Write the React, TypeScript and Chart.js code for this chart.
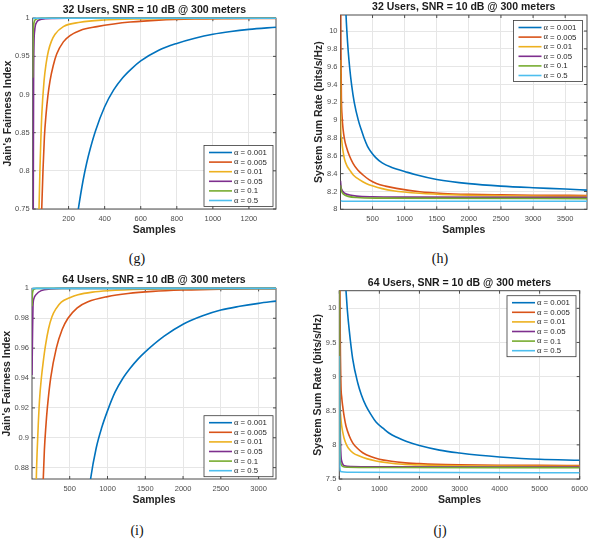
import React, { useEffect, useRef } from 'react';
import { Chart, registerables } from 'chart.js';

Chart.register(...registerables);

type Pt = [number, number];

// ---------- shared legend / colours ----------
const ALPHA_VALUES = ['0.001', '0.005', '0.01', '0.05', '0.1', '0.5'];
const SERIES_COLORS = ['#0072BD', '#D95319', '#EDB120', '#7E2F8E', '#77AC30', '#4DBEEE'];

// ---------- (g) 32 users, Jain's index ----------
const G_X_TICKS = [200, 400, 600, 800, 1000, 1200];
const G_Y_TICKS = [0.75, 0.8, 0.85, 0.9, 0.95, 1];
const G_A0001: Pt[] = [[150, 0.55], [200, 0.66], [254, 0.75], [280, 0.787], [300, 0.81], [320, 0.829], [350, 0.853], [400, 0.884], [450, 0.906], [500, 0.922], [550, 0.934], [600, 0.944], [700, 0.958], [800, 0.967], [900, 0.9738], [1000, 0.979], [1100, 0.9826], [1200, 0.9853], [1350, 0.9882]];
const G_A0005: Pt[] = [[1, 0.2], [30, 0.55], [51, 0.75], [58, 0.8], [66, 0.845], [75, 0.874], [85, 0.898], [97, 0.918], [115, 0.938], [134, 0.953], [171, 0.969], [210, 0.9775], [264, 0.984], [357, 0.989], [450, 0.9925], [542, 0.995], [700, 0.9975], [900, 0.999], [1100, 0.9995], [1350, 0.9998]];
const G_A001: Pt[] = [[1, 0.3], [25, 0.6], [36, 0.75], [41, 0.8], [46, 0.84], [51, 0.872], [64, 0.918], [75, 0.94], [88, 0.957], [105, 0.97], [125, 0.979], [171, 0.989], [264, 0.9946], [393, 0.9976], [600, 0.9991], [900, 0.9997], [1350, 1]];
const G_A005: Pt[] = [[1, 0.55], [4, 0.75], [6, 0.92], [8, 0.965], [12, 0.984], [23, 0.9946], [40, 0.998], [70, 0.9993], [120, 0.9998], [200, 1], [1350, 1]];
const G_A01: Pt[] = [[1, 0.922], [3, 0.975], [6, 0.99], [12, 0.997], [25, 0.9993], [50, 1], [1350, 1]];
const G_A05: Pt[] = [[1, 0.9995], [10, 1], [1350, 1]];

// ---------- (h) 32 users, sum rate ----------
const H_X_TICKS = [500, 1000, 1500, 2000, 2500, 3000, 3500];
const H_Y_TICKS = [8, 8.2, 8.4, 8.6, 8.8, 9, 9.2, 9.4, 9.6, 9.8, 10];
const H_A0001: Pt[] = [[30, 11.8], [60, 10.75], [87, 10.18], [100, 10.0], [120, 9.785], [145, 9.58], [175, 9.39], [215, 9.2], [278, 9.0], [330, 8.88], [368, 8.8], [420, 8.71], [480, 8.64], [550, 8.58], [650, 8.52], [800, 8.47], [1000, 8.425], [1160, 8.39], [1500, 8.335], [2000, 8.288], [2500, 8.26], [3000, 8.242], [3500, 8.228], [3840, 8.215]];
const H_A0005: Pt[] = [[1, 10.9], [8, 9.8], [15, 9.25], [25, 9.05], [41, 8.9], [65, 8.78], [93, 8.7], [140, 8.6], [196, 8.516], [270, 8.44], [352, 8.385], [450, 8.33], [560, 8.29], [700, 8.26], [872, 8.235], [1235, 8.197], [1600, 8.178], [2000, 8.168], [2500, 8.162], [3000, 8.158], [3840, 8.155]];
const H_A001: Pt[] = [[1, 9.675], [5, 8.9], [15, 8.8], [31, 8.7], [50, 8.61], [67, 8.553], [100, 8.49], [145, 8.44], [200, 8.385], [300, 8.33], [400, 8.29], [508, 8.261], [650, 8.232], [820, 8.209], [1235, 8.18], [1700, 8.163], [2500, 8.152], [3840, 8.145]];
const H_A005: Pt[] = [[1, 8.32], [10, 8.25], [25, 8.215], [41, 8.197], [80, 8.175], [145, 8.16], [250, 8.148], [500, 8.14], [1000, 8.137], [3840, 8.135]];
const H_A01: Pt[] = [[1, 8.27], [15, 8.21], [35, 8.18], [67, 8.16], [120, 8.145], [250, 8.132], [600, 8.125], [3840, 8.12]];
const H_A05: Pt[] = [[1, 8.095], [50, 8.09], [3840, 8.09]];

// ---------- (i) 64 users, Jain's index ----------
const I_X_TICKS = [500, 1000, 1500, 2000, 2500, 3000];
const I_Y_TICKS = [0.88, 0.9, 0.92, 0.94, 0.96, 0.98, 1];
const I_A0001: Pt[] = [[600, 0.8], [776, 0.8724], [850, 0.893], [925, 0.907], [1000, 0.918], [1100, 0.9305], [1200, 0.9395], [1300, 0.9465], [1400, 0.9525], [1500, 0.9575], [1750, 0.968], [2000, 0.976], [2250, 0.9815], [2500, 0.9855], [2750, 0.988], [3000, 0.99], [3230, 0.9915]];
const I_A0005: Pt[] = [[100, 0.78], [150, 0.8724], [165, 0.892], [185, 0.908], [204, 0.92], [248, 0.94], [323, 0.96], [400, 0.9725], [477, 0.98], [600, 0.987], [742, 0.991], [1000, 0.9945], [1272, 0.9966], [1600, 0.998], [2000, 0.9989], [2500, 0.9995], [3230, 0.9998]];
const I_A001: Pt[] = [[30, 0.78], [58, 0.8724], [70, 0.892], [85, 0.91], [100, 0.925], [125, 0.94], [150, 0.951], [180, 0.962], [220, 0.973], [265, 0.981], [320, 0.9865], [389, 0.9908], [500, 0.9938], [610, 0.9958], [800, 0.9975], [1007, 0.9984], [1500, 0.9994], [2000, 0.9998], [3230, 1]];
const I_A005: Pt[] = [[1, 0.942], [8, 0.97], [14, 0.988], [25, 0.993], [58, 0.996], [123, 0.9985], [250, 0.9996], [400, 1], [3230, 1]];
const I_A01: Pt[] = [[1, 0.988], [5, 0.995], [12, 0.998], [30, 0.9995], [60, 1], [3230, 1]];
const I_A05: Pt[] = [[1, 0.9995], [20, 1], [3230, 1]];

// ---------- (j) 64 users, sum rate ----------
const J_X_TICKS = [0, 1000, 2000, 3000, 4000, 5000, 6000];
const J_Y_TICKS = [7.5, 8, 8.5, 9, 9.5, 10];
const J_A0001: Pt[] = [[120, 10.8], [140, 10.55], [167, 10.26], [200, 9.98], [250, 9.67], [334, 9.26], [459, 8.91], [550, 8.735], [666, 8.57], [800, 8.435], [916, 8.335], [1100, 8.24], [1248, 8.17], [1450, 8.107], [1664, 8.052], [2000, 7.99], [2500, 7.923], [3000, 7.88], [3500, 7.847], [4000, 7.823], [5000, 7.789], [6000, 7.775]];
const J_A0005: Pt[] = [[0, 12], [10, 10.8], [25, 9.5], [42, 8.86], [60, 8.7], [84, 8.57], [120, 8.42], [167, 8.276], [250, 8.13], [334, 8.03], [450, 7.95], [584, 7.885], [800, 7.825], [1000, 7.79], [1300, 7.76], [1582, 7.74], [2000, 7.725], [2413, 7.715], [3000, 7.708], [4000, 7.702], [5000, 7.699], [6000, 7.697]];
const J_A001: Pt[] = [[0, 11], [8, 9.6], [17, 8.6], [30, 8.45], [45, 8.35], [67, 8.25], [95, 8.16], [125, 8.085], [180, 8.0], [250, 7.935], [350, 7.88], [500, 7.837], [700, 7.795], [916, 7.764], [1200, 7.738], [1582, 7.715], [2000, 7.705], [2500, 7.697], [4000, 7.69], [6000, 7.685]];
const J_A005: Pt[] = [[0, 10.5], [15, 8.6], [30, 8.05], [42, 7.84], [60, 7.76], [90, 7.715], [125, 7.695], [300, 7.683], [1000, 7.68], [6000, 7.675]];
const J_A01: Pt[] = [[0, 10.6], [8, 8.6], [17, 7.81], [30, 7.74], [42, 7.715], [80, 7.685], [200, 7.672], [1000, 7.668], [6000, 7.665]];
const J_A05: Pt[] = [[0, 9.3], [5, 8.3], [12, 7.7], [25, 7.62], [60, 7.605], [200, 7.598], [6000, 7.592]];

// ---------- layout specs ----------
interface Spec {
  title: string;
  xLabel: string;
  yLabel: string;
  cx: number; cy: number; cw: number; ch: number; // canvas placement (page px)
  pl: number; pt: number; pr: number; pb: number; // plot box (page px)
  xMin: number; xMax: number; yMin: number; yMax: number;
  xTicks: number[]; yTicks: number[];
  series: Pt[][];
  legRight: number; legTop: number;
  yLabelX: number;
  clipTop: boolean;
}

const SPEC_G: Spec = {
  title: '32 Users, SNR = 10 dB @ 300 meters', xLabel: 'Samples', yLabel: "Jain's Fairness Index",
  cx: 0, cy: 0, cw: 297, ch: 250,
  pl: 32.7, pt: 18.2, pr: 276, pb: 209,
  xMin: 1, xMax: 1350, yMin: 0.75, yMax: 1,
  xTicks: G_X_TICKS, yTicks: G_Y_TICKS,
  series: [G_A0001, G_A0005, G_A001, G_A005, G_A01, G_A05],
  legRight: 273, legTop: 145.5, yLabelX: 8.3, clipTop: true,
};
const SPEC_H: Spec = {
  title: '32 Users, SNR = 10 dB @ 300 meters', xLabel: 'Samples', yLabel: 'System Sum Rate (bits/s/Hz)',
  cx: 297, cy: 0, cw: 297, ch: 250,
  pl: 340.5, pt: 15, pr: 587, pb: 209.3,
  xMin: 1, xMax: 3840, yMin: 8, yMax: 10.18,
  xTicks: H_X_TICKS, yTicks: H_Y_TICKS,
  series: [H_A0001, H_A0005, H_A001, H_A005, H_A01, H_A05],
  legRight: 582.5, legTop: 20.5, yLabelX: 318.7, clipTop: false,
};
const SPEC_I: Spec = {
  title: '64 Users, SNR = 10 dB @ 300 meters', xLabel: 'Samples', yLabel: "Jain's Fairness Index",
  cx: 0, cy: 270, cw: 297, ch: 250,
  pl: 32, pt: 288.4, pr: 276, pb: 479,
  xMin: 1, xMax: 3230, yMin: 0.8724, yMax: 1,
  xTicks: I_X_TICKS, yTicks: I_Y_TICKS,
  series: [I_A0001, I_A0005, I_A001, I_A005, I_A01, I_A05],
  legRight: 273, legTop: 415.7, yLabelX: 7.3, clipTop: true,
};
const SPEC_J: Spec = {
  title: '64 Users, SNR = 10 dB @ 300 meters', xLabel: 'Samples', yLabel: 'System Sum Rate (bits/s/Hz)',
  cx: 297, cy: 270, cw: 297, ch: 250,
  pl: 339.3, pt: 290.7, pr: 579.7, pb: 479,
  xMin: 0, xMax: 6000, yMin: 7.5, yMax: 10.258,
  xTicks: J_X_TICKS, yTicks: J_Y_TICKS,
  series: [J_A0001, J_A0005, J_A001, J_A005, J_A01, J_A05],
  legRight: 576, legTop: 295.7, yLabelX: 317.7, clipTop: false,
};

const CAPTIONS: { text: string; x: number; y: number }[] = [
  { text: '(g)', x: 137, y: 259 },
  { text: '(h)', x: 440, y: 259 },
  { text: '(i)', x: 137, y: 531 },
  { text: '(j)', x: 440, y: 531 },
];

const AXIS_COLOR = '#4a4a4a';
const GRID_COLOR = '#e6e6e6';
const TICK_COLOR = '#4d4d4d';
const SANS = '"Liberation Sans", Arial, Helvetica, sans-serif';
const SERIF = '"Liberation Serif", "Times New Roman", serif';

function decorPlugin(spec: Spec) {
  return {
    id: 'decor',
    beforeDatasetsDraw(chart: any) {
      const { ctx, chartArea: a } = chart;
      const xs = chart.scales.x;
      const ys = chart.scales.y;
      ctx.save();
      ctx.strokeStyle = AXIS_COLOR;
      ctx.lineWidth = 1;
      ctx.strokeRect(a.left, a.top, a.right - a.left, a.bottom - a.top);
      ctx.beginPath();
      for (const v of spec.xTicks) {
        const px = xs.getPixelForValue(v);
        ctx.moveTo(px, a.bottom); ctx.lineTo(px, a.bottom - 3);
        ctx.moveTo(px, a.top); ctx.lineTo(px, a.top + 3);
      }
      for (const v of spec.yTicks) {
        const py = ys.getPixelForValue(v);
        ctx.moveTo(a.left, py); ctx.lineTo(a.left + 3, py);
        ctx.moveTo(a.right, py); ctx.lineTo(a.right - 3, py);
      }
      ctx.stroke();
      ctx.restore();
    },
    afterDraw(chart: any) {
      const { ctx, chartArea: a } = chart;
      ctx.save();
      // title
      ctx.fillStyle = '#1a1a1a';
      ctx.font = `bold 10.5px ${SANS}`;
      ctx.textAlign = 'center';
      ctx.textBaseline = 'middle';
      ctx.fillText(spec.title, (a.left + a.right) / 2, a.top - 8);
      // x label
      ctx.fillStyle = '#262626';
      ctx.fillText(spec.xLabel, (a.left + a.right) / 2, a.bottom + 21);
      // y label
      ctx.save();
      ctx.translate(spec.yLabelX - spec.cx, (a.top + a.bottom) / 2);
      ctx.rotate(-Math.PI / 2);
      ctx.fillText(spec.yLabel, 0, 0);
      ctx.restore();
      // legend
      const LW = 69;
      const LH = 61;
      const lx = spec.legRight - spec.cx - LW;
      const ly = spec.legTop - spec.cy;
      ctx.fillStyle = '#ffffff';
      ctx.fillRect(lx, ly, LW, LH);
      ctx.strokeStyle = '#3a3a3a';
      ctx.lineWidth = 0.8;
      ctx.strokeRect(lx, ly, LW, LH);
      ALPHA_VALUES.forEach((val, i) => {
        const y = ly + 7 + i * 9.6;
        ctx.strokeStyle = SERIES_COLORS[i];
        ctx.lineWidth = 1.6;
        ctx.beginPath();
        ctx.moveTo(lx + 5, y);
        ctx.lineTo(lx + 28, y);
        ctx.stroke();
        ctx.fillStyle = '#262626';
        ctx.textAlign = 'left';
        ctx.textBaseline = 'middle';
        ctx.font = `8.5px ${SERIF}`;
        ctx.fillText('\u03b1', lx + 30, y);
        const w = ctx.measureText('\u03b1').width;
        ctx.font = `7.8px ${SANS}`;
        ctx.fillText(' = ' + val, lx + 30 + w, y + 0.3);
      });
      ctx.restore();
    },
  };
}

function buildConfig(spec: Spec): any {
  const plotL = spec.pl - spec.cx;
  const plotT = spec.pt - spec.cy;
  const plotR = spec.pr - spec.cx;
  const plotB = spec.pb - spec.cy;
  const clip = spec.clipTop ? { left: 0, top: 2, right: 0, bottom: 0 } : 0;
  const n = spec.series.length;
  return {
    type: 'line',
    data: {
      datasets: spec.series.map((pts, i) => ({
        label: '\u03b1 = ' + ALPHA_VALUES[i],
        data: pts.map(([x, y]) => ({ x, y })),
        borderColor: SERIES_COLORS[i],
        backgroundColor: SERIES_COLORS[i],
        borderWidth: 1.6,
        pointRadius: 0,
        fill: false,
        cubicInterpolationMode: 'monotone',
        clip,
        order: n - 1 - i,
      })),
    },
    options: {
      animation: false,
      responsive: false,
      maintainAspectRatio: false,
      events: [],
      layout: { padding: { left: 0, top: plotT, right: spec.cw - plotR, bottom: 0 } },
      plugins: {
        legend: { display: false },
        title: { display: false },
        tooltip: { enabled: false },
      },
      scales: {
        x: {
          type: 'linear',
          min: spec.xMin,
          max: spec.xMax,
          afterBuildTicks: (s: any) => { s.ticks = spec.xTicks.map((v) => ({ value: v })); },
          afterFit: (s: any) => { s.height = spec.ch - plotB; },
          grid: { color: GRID_COLOR, lineWidth: 1, drawTicks: false },
          border: { display: false },
          ticks: {
            autoSkip: false, maxRotation: 0, padding: 5, color: TICK_COLOR,
            font: { family: SANS, size: 7.5 },
            callback: (v: number) => String(v),
          },
        },
        y: {
          type: 'linear',
          min: spec.yMin,
          max: spec.yMax,
          afterBuildTicks: (s: any) => { s.ticks = spec.yTicks.map((v) => ({ value: v })); },
          afterFit: (s: any) => { s.width = plotL; },
          grid: { color: GRID_COLOR, lineWidth: 1, drawTicks: false },
          border: { display: false },
          ticks: {
            autoSkip: false, padding: 3, color: TICK_COLOR,
            font: { family: SANS, size: 7.5 },
            callback: (v: number) => String(v),
          },
        },
      },
    },
    plugins: [decorPlugin(spec)],
  };
}

function Panel({ spec }: { spec: Spec }) {
  const ref = useRef<HTMLCanvasElement>(null);
  useEffect(() => {
    const canvas = ref.current;
    if (!canvas) return;
    const chart = new Chart(canvas, buildConfig(spec));
    return () => chart.destroy();
  }, [spec]);
  return (
    <canvas
      ref={ref}
      width={spec.cw}
      height={spec.ch}
      style={{ position: 'absolute', left: spec.cx, top: spec.cy, width: spec.cw, height: spec.ch }}
    />
  );
}

export default function App() {
  return (
    <div style={{ position: 'absolute', left: 0, top: 0, width: 594, height: 555, background: '#ffffff', overflow: 'hidden' }}>
      <Panel spec={SPEC_G} />
      <Panel spec={SPEC_H} />
      <Panel spec={SPEC_I} />
      <Panel spec={SPEC_J} />
      {CAPTIONS.map((c) => (
        <div
          key={c.text}
          style={{
            position: 'absolute', left: c.x - 30, top: c.y - 9, width: 60, height: 18,
            lineHeight: '18px', textAlign: 'center', fontFamily: SERIF, fontSize: 14, color: '#111',
          }}
        >
          {c.text}
        </div>
      ))}
    </div>
  );
}
